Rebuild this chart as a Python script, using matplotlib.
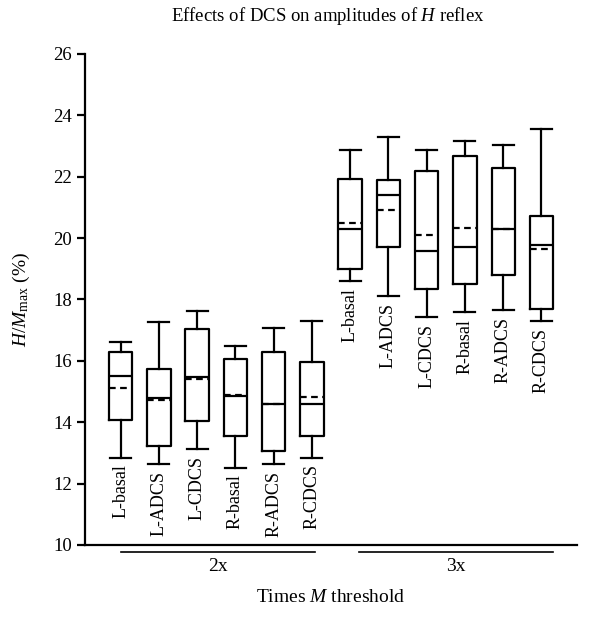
import numpy as np
import matplotlib
matplotlib.use('Agg')
import matplotlib.pyplot as plt
import matplotlib.transforms as mtransforms

plt.rcParams['font.family'] = ['Liberation Serif', 'DejaVu Serif']
plt.rcParams['mathtext.fontset'] = 'custom'
plt.rcParams['mathtext.rm'] = 'Liberation Serif'
plt.rcParams['mathtext.it'] = 'Liberation Serif:italic'

# box statistics (H/Mmax, %)
labels = ['L-basal', 'L-ADCS', 'L-CDCS', 'R-basal', 'R-ADCS', 'R-CDCS',
          'L-basal', 'L-ADCS', 'L-CDCS', 'R-basal', 'R-ADCS', 'R-CDCS']
whislo = [12.85, 12.63, 13.12, 12.52, 12.64, 12.85,
          18.60, 18.12, 17.43, 17.60, 17.67, 17.31]
q1 = [14.06, 13.21, 14.05, 13.56, 13.05, 13.56,
      18.99, 19.70, 18.34, 18.50, 18.80, 17.69]
med = [15.51, 14.79, 15.48, 14.85, 14.60, 14.60,
       20.30, 21.39, 19.59, 19.70, 20.29, 19.79]
mean = [15.13, 14.72, 15.42, 14.88, 14.60, 14.82,
        20.49, 20.92, 20.10, 20.34, 20.31, 19.66]
q3 = [16.30, 15.74, 17.04, 16.05, 16.30, 15.95,
      21.93, 21.88, 22.19, 22.68, 22.28, 20.73]
whishi = [16.62, 17.27, 17.62, 16.47, 17.07, 17.31,
          22.86, 23.29, 22.87, 23.16, 23.02, 23.55]
groups = ['2x', '3x']

stats = []
for i in range(len(labels)):
    stats.append(dict(label=labels[i], whislo=whislo[i], q1=q1[i], med=med[i],
                      mean=mean[i], q3=q3[i], whishi=whishi[i], fliers=[]))

fig = plt.figure(figsize=(6.0, 6.27), dpi=100)
ax = fig.add_axes([0.1417, 0.1308, 0.8200, 0.7831])

lw = 1.6
fs = 14
pos = np.arange(1, len(labels) + 1)
ax.bxp(stats, positions=pos, widths=0.61, capwidths=0.55,
       showmeans=True, meanline=True, showfliers=False,
       boxprops=dict(color='black', linewidth=lw),
       whiskerprops=dict(color='black', linewidth=lw),
       capprops=dict(color='black', linewidth=lw),
       medianprops=dict(color='black', linewidth=lw),
       meanprops=dict(color='black', linewidth=lw, linestyle=(0, (3, 2))))

# category labels under each box
for p, lab, lo in zip(pos, labels, whislo):
    ax.annotate(lab, xy=(p, lo), xytext=(0, -5), textcoords='offset points',
                rotation=90, ha='center', va='top', fontsize=13)

ax.set_xlim(0.07, 12.93)
ax.set_ylim(10, 26)
ax.set_yticks(np.arange(10, 27, 2))
ax.set_xticks([])
ax.tick_params(axis='y', labelsize=13.5, width=lw, length=6, direction='out')
for s in ['top', 'right']:
    ax.spines[s].set_visible(False)
ax.spines['left'].set_linewidth(lw)
ax.spines['bottom'].set_linewidth(lw)

# group brackets below the axis
trans = mtransforms.blended_transform_factory(ax.transData, ax.transAxes)
spans = [(1.0, 6.08), (7.22, 12.29)]
for (a, b), g in zip(spans, groups):
    ax.plot([a, b], [-0.0137, -0.0137], color='black', lw=1.2,
            transform=trans, clip_on=False)
    ax.text((a + b) / 2, -0.044, g, transform=trans, ha='center', va='center',
            fontsize=fs)

ax.text(0.5, -0.107, 'Times $M$ threshold', transform=ax.transAxes,
        ha='center', va='center', fontsize=fs)
ax.set_ylabel(r'$H/M_{\mathrm{max}}$ (%)', fontsize=fs)
ax.yaxis.set_label_coords(-0.108, 0.5)
fig.text(0.5467, 0.974, 'Effects of DCS on amplitudes of $H$ reflex',
         ha='center', va='center', fontsize=13.5)

fig.savefig('out.png', dpi=100)
